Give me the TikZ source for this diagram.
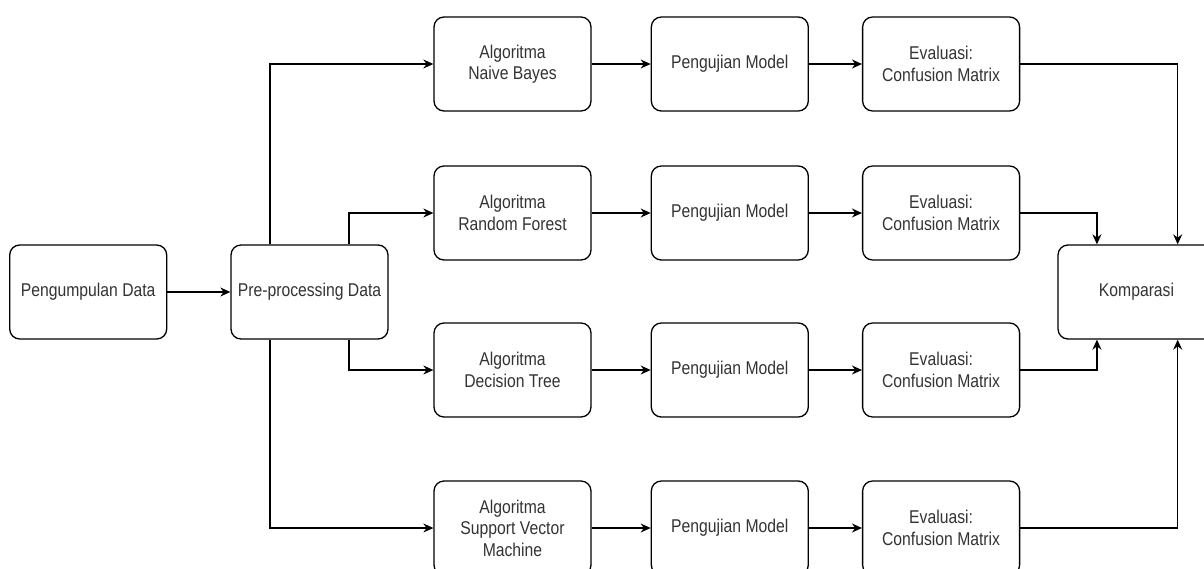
\documentclass[tikz,border=0pt]{standalone}
\usepackage{fontspec}
\setmainfont{Liberation Sans}[FakeStretch=0.85]
\usepackage{tikz}
\usetikzlibrary{positioning,arrows.meta,calc}
\definecolor{flowText}{RGB}{51,51,51}

\begin{document}
\begin{tikzpicture}[
    x=1pt, y=-1pt,
    line width=1.3pt,
    box node/.style={rectangle, rounded corners=10pt, draw=black, line width=1.3pt, minimum width=157pt, minimum height=94pt, align=center, text=flowText, font=\fontsize{18.5}{21.5}\selectfont, inner sep=2pt},
    flow/.style={-{Stealth[length=10pt, width=9pt]}, line width=1.3pt}
]
  \clip (0,0) rectangle (1204,568);

  % input and preprocessing
  \node[box node] (prep) at (309.5,292) {Pre-processing Data};
  \node[box node] (coll) [left=63pt of prep] {Pengumpulan Data};

  % algorithm column
  \node[box node] (alg1) at (512.5,64) {Algoritma\\Naive Bayes};
  \node[box node] (alg2) at (512.5,213) {Algoritma\\Random Forest};
  \node[box node] (alg3) at (512.5,370) {Algoritma\\Decision Tree};
  \node[box node] (alg4) at (512.5,528) {Algoritma\\Support Vector\\Machine};

  % testing and evaluation
  \node[box node] (test1) [right=59pt of alg1] {Pengujian Model};
  \node[box node] (test2) [right=59pt of alg2] {Pengujian Model};
  \node[box node] (test3) [right=59pt of alg3] {Pengujian Model};
  \node[box node] (test4) [right=59pt of alg4] {Pengujian Model};
  \node[box node] (eval1) [right=53pt of test1] {Evaluasi:\\Confusion Matrix};
  \node[box node] (eval2) [right=53pt of test2] {Evaluasi:\\Confusion Matrix};
  \node[box node] (eval3) [right=53pt of test3] {Evaluasi:\\Confusion Matrix};
  \node[box node] (eval4) [right=53pt of test4] {Evaluasi:\\Confusion Matrix};

  \node[box node] (komp) at (1136.5,292) {Komparasi};

  \draw[flow] (coll) -- (prep);
  \draw[flow] ($(prep.north west)!0.25!(prep.north east)$) |- (alg1);
  \draw[flow] ($(prep.north west)!0.75!(prep.north east)$) |- (alg2);
  \draw[flow] ($(prep.south west)!0.75!(prep.south east)$) |- (alg3);
  \draw[flow] ($(prep.south west)!0.25!(prep.south east)$) |- (alg4);

  \draw[flow] (alg1) -- (test1);
  \draw[flow] (alg2) -- (test2);
  \draw[flow] (alg3) -- (test3);
  \draw[flow] (alg4) -- (test4);
  \draw[flow] (test1) -- (eval1);
  \draw[flow] (test2) -- (eval2);
  \draw[flow] (test3) -- (eval3);
  \draw[flow] (test4) -- (eval4);

  \draw[flow] (eval1) -| ($(komp.north west)!0.76!(komp.north east)$);
  \draw[flow] (eval2) -| ($(komp.north west)!0.25!(komp.north east)$);
  \draw[flow] (eval3) -| ($(komp.south west)!0.25!(komp.south east)$);
  \draw[flow] (eval4) -| ($(komp.south west)!0.76!(komp.south east)$);
\end{tikzpicture}
\end{document}
